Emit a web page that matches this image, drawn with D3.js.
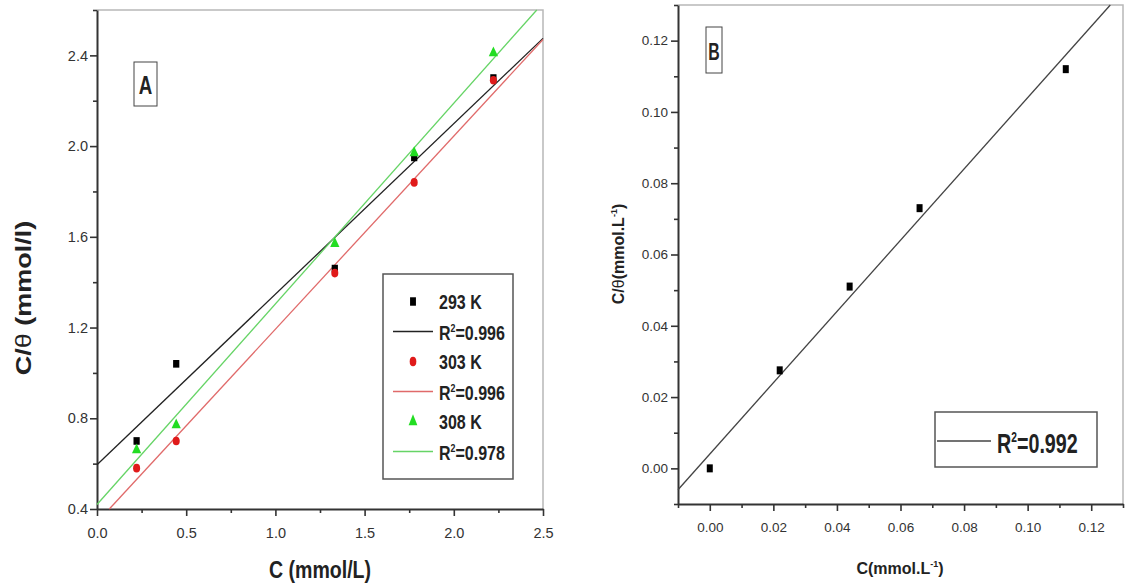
<!DOCTYPE html>
<html>
<head>
<meta charset="utf-8">
<script src="https://cdn.jsdelivr.net/npm/d3@7"></script>
<style>
  body { margin: 0; background: #fff; }
  svg { display: block; }
  text { font-family: "Liberation Sans", Arial, sans-serif; }
</style>
</head>
<body>
<svg id="chart" width="1132" height="586"></svg>
<script>
// panel A: Langmuir plot at three temperatures
const concA = [0.222, 0.444, 1.333, 1.778, 2.222];
const val293 = [0.70, 1.04, 1.46, 1.95, 2.30];
const val303 = [0.58, 0.70, 1.44, 1.84, 2.29];
const val308 = [0.66, 0.77, 1.57, 1.97, 2.41];
// fitted lines, end points
const fit293 = [[0, 0.595], [2.5, 2.475]];
const fit303 = [[0.069, 0.4], [2.5, 2.47]];
const fit308 = [[0, 0.42], [2.465, 2.6]];
const legendA = [
  { label: '293 K', r2: '0.996' },
  { label: '303 K', r2: '0.996' },
  { label: '308 K', r2: '0.978' }
];
const xTicksA = [0, 0.5, 1.0, 1.5, 2.0, 2.5];
const xMinorA = [0.25, 0.75, 1.25, 1.75, 2.25];
const yTicksA = [0.4, 0.8, 1.2, 1.6, 2.0, 2.4];
const yMinorA = [0.6, 1.0, 1.4, 1.8, 2.2, 2.6];

// panel B
const concB = [0, 0.022, 0.044, 0.066, 0.112];
const valB = [0, 0.0275, 0.051, 0.073, 0.112];
const fitB = [[-0.01, -0.006], [0.126, 0.13]];
const r2B = '0.992';
const ticksB = [0, 0.02, 0.04, 0.06, 0.08, 0.10, 0.12];
const minorB = [-0.01, 0.01, 0.03, 0.05, 0.07, 0.09, 0.11, 0.13];

const svg = d3.select('#chart');

const xA = d3.scaleLinear().domain([0, 2.5]).range([97, 543]);
const yA = d3.scaleLinear().domain([0.4, 2.6]).range([509, 10]);
const xB = d3.scaleLinear().domain([-0.01, 0.13]).range([678, 1123]);
const yB = d3.scaleLinear().domain([-0.01, 0.13]).range([504, 5]);

const series = [
  { vals: val293, fit: fit293, color: '#000', line: '#222', shape: d3.symbolSquare, size: 48 },
  { vals: val303, fit: fit303, color: '#e01a1a', line: '#e06a6a', shape: d3.symbolCircle, size: 48 },
  { vals: val308, fit: fit308, color: '#22dd22', line: '#66d466', shape: d3.symbolTriangle, size: 46 }
];

// draws frame, major + minor ticks for one panel
function drawAxes(x, y, opt) {
  const [x0, x1] = x.range();
  const [y0, y1] = y.range();

  svg.append('path')
    .attr('d', `M${x0},${y1}H${x1}V${y0}`)
    .attr('fill', 'none')
    .attr('stroke', '#b8b8b8')
    .attr('stroke-width', 1.5);

  const gx = svg.append('g').attr('transform', `translate(0,${y0})`);
  gx.call(d3.axisBottom(x).tickValues(opt.xMajor).tickFormat(opt.xFmt)
    .tickSize(7).tickSizeOuter(0).tickPadding(opt.xPad));
  const gxm = svg.append('g').attr('transform', `translate(0,${y0})`);
  gxm.call(d3.axisBottom(x).tickValues(opt.xMinor).tickFormat('').tickSize(4));
  gxm.select('.domain').remove();

  const gy = svg.append('g').attr('transform', `translate(${x0},0)`);
  gy.call(d3.axisLeft(y).tickValues(opt.yMajor).tickFormat(opt.yFmt)
    .tickSize(7).tickSizeOuter(0).tickPadding(opt.yPad));
  const gym = svg.append('g').attr('transform', `translate(${x0},0)`);
  gym.call(d3.axisLeft(y).tickValues(opt.yMinor).tickFormat('').tickSize(4));
  gym.select('.domain').remove();

  [gx, gy, gxm, gym].forEach(g => {
    g.selectAll('.domain').attr('stroke', '#333').attr('stroke-width', 2);
    g.selectAll('.tick line').attr('stroke', '#333').attr('stroke-width', 1.6);
    g.selectAll('.tick text')
      .attr('fill', '#333')
      .style('font-size', opt.fs + 'px')
      .style('font-family', '"Liberation Sans", Arial, sans-serif');
  });
}

// squeezed text helper (the source image is narrowed horizontally)
function squeezed(x, y, sx, rotate) {
  return svg.append('g')
    .attr('transform', `translate(${x},${y}) scale(${sx},1)` + (rotate ? ' rotate(-90)' : ''))
    .append('text');
}

// ---------- panel A ----------
drawAxes(xA, yA, {
  xMajor: xTicksA, xMinor: xMinorA, yMajor: yTicksA, yMinor: yMinorA,
  xFmt: d3.format('.1f'), yFmt: d3.format('.1f'), xPad: 12, yPad: 2, fs: 14.5
});

const line = (x, y) => d3.line().x(d => x(d[0])).y(d => y(d[1]));

series.forEach(s => {
  svg.append('path')
    .attr('d', line(xA, yA)(s.fit))
    .attr('fill', 'none')
    .attr('stroke', s.line)
    .attr('stroke-width', 1.3);
});

series.forEach(s => {
  svg.append('g').selectAll('path')
    .data(s.vals)
    .join('path')
    .attr('d', d3.symbol().type(s.shape).size(s.size))
    .attr('transform', (d, i) => `translate(${xA(concA[i])},${yA(d)}) scale(0.9,1.1)`)
    .attr('fill', s.color);
});

// panel label A
svg.append('rect').attr('x', 134).attr('y', 62).attr('width', 23).attr('height', 44)
  .attr('fill', '#fff').attr('stroke', '#444').attr('stroke-width', 1);
squeezed(145.5, 94, 0.72).attr('text-anchor', 'middle')
  .style('font-size', '26px').style('font-weight', 'bold').attr('fill', '#222').text('A');

// legend A
svg.append('rect').attr('x', 383).attr('y', 274).attr('width', 130).attr('height', 205)
  .attr('fill', '#fff').attr('stroke', '#555').attr('stroke-width', 1.5);
legendA.forEach((d, i) => {
  const s = series[i];
  const cy1 = 301.5 + i * 60;
  const cy2 = cy1 + 30;
  svg.append('path')
    .attr('d', d3.symbol().type(s.shape).size(s.size + 6))
    .attr('transform', `translate(413,${cy1}) scale(0.8,1.15)`)
    .attr('fill', s.color);
  squeezed(439, cy1 + 7.5, 0.8)
    .style('font-size', '20px').style('font-weight', 'bold').attr('fill', '#222')
    .text(d.label);
  svg.append('line')
    .attr('x1', 393).attr('x2', 433).attr('y1', cy2).attr('y2', cy2)
    .attr('stroke', s.line).attr('stroke-width', 1.3);
  const t = squeezed(439, cy2 + 8, 0.8)
    .style('font-size', '20px').style('font-weight', 'bold').attr('fill', '#222');
  t.append('tspan').text('R');
  t.append('tspan').attr('dy', -8).style('font-size', '11px').text('2');
  t.append('tspan').attr('dy', 8).text('=' + d.r2);
});

// axis titles A
squeezed(320, 578, 0.85).attr('text-anchor', 'middle')
  .style('font-size', '23px').style('font-weight', 'bold').attr('fill', '#222')
  .text('C (mmol/L)');
const tyA = squeezed(31, 298, 0.8, true).attr('text-anchor', 'middle')
  .style('font-size', '27px').style('font-weight', 'bold').attr('fill', '#222');
tyA.append('tspan').text('C/');
tyA.append('tspan').style('font-weight', 'normal').text('θ');
tyA.append('tspan').text(' (mmol/l)');

// ---------- panel B ----------
drawAxes(xB, yB, {
  xMajor: ticksB, xMinor: minorB, yMajor: ticksB, yMinor: minorB,
  xFmt: d3.format('.2f'), yFmt: d3.format('.2f'), xPad: 11, yPad: 3, fs: 13.5
});

svg.append('path')
  .attr('d', line(xB, yB)(fitB))
  .attr('fill', 'none')
  .attr('stroke', '#444')
  .attr('stroke-width', 1.3);

svg.append('g').selectAll('rect')
  .data(valB)
  .join('rect')
  .attr('x', (d, i) => xB(concB[i]) - 3)
  .attr('y', d => yB(d) - 4)
  .attr('width', 6)
  .attr('height', 8)
  .attr('fill', '#000');

// panel label B
svg.append('rect').attr('x', 706).attr('y', 27).attr('width', 16).attr('height', 46)
  .attr('fill', '#fff').attr('stroke', '#444').attr('stroke-width', 1);
squeezed(714, 60, 0.66).attr('text-anchor', 'middle')
  .style('font-size', '24px').style('font-weight', 'bold').attr('fill', '#222').text('B');

// legend B
svg.append('rect').attr('x', 935).attr('y', 412).attr('width', 162).attr('height', 55)
  .attr('fill', '#fff').attr('stroke', '#555').attr('stroke-width', 1.5);
svg.append('line').attr('x1', 937).attr('x2', 991).attr('y1', 441).attr('y2', 441)
  .attr('stroke', '#444').attr('stroke-width', 1.3);
const tB = squeezed(997, 453, 0.73)
  .style('font-size', '27px').style('font-weight', 'bold').attr('fill', '#222');
tB.append('tspan').text('R');
tB.append('tspan').attr('dy', -11).style('font-size', '14px').text('2');
tB.append('tspan').attr('dy', 11).text('=' + r2B);

// axis titles B
const txB = svg.append('text').attr('x', 900).attr('y', 574).attr('text-anchor', 'middle')
  .style('font-size', '16px').style('font-weight', 'bold').attr('fill', '#222');
txB.append('tspan').text('C(mmol.L');
txB.append('tspan').attr('dy', -7).style('font-size', '9px').text('-1');
txB.append('tspan').attr('dy', 7).text(')');

const tyB = svg.append('text')
  .attr('transform', 'translate(624,254) rotate(-90)')
  .attr('text-anchor', 'middle')
  .style('font-size', '16px').style('font-weight', 'bold').attr('fill', '#222');
tyB.append('tspan').text('C/');
tyB.append('tspan').style('font-weight', 'normal').text('θ');
tyB.append('tspan').text('(mmol.L');
tyB.append('tspan').attr('dy', -7).style('font-size', '9px').text('-1');
tyB.append('tspan').attr('dy', 7).text(')');
</script>
</body>
</html>
